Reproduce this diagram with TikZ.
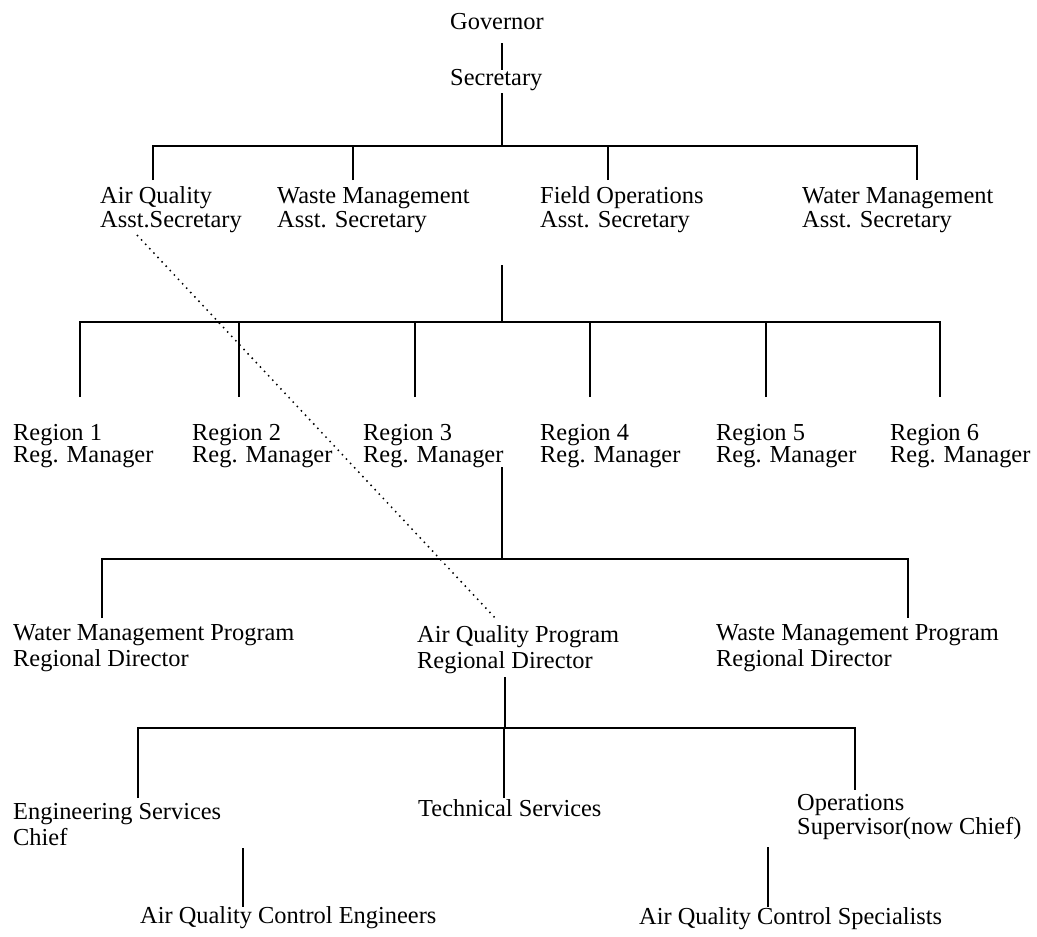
\documentclass[tikz,border=0pt]{standalone}
\usepackage{fontspec}
\setmainfont{Liberation Serif}
\newcommand\twoline[2]{\begin{tabular}[t]{@{}l@{}}#1\\#2\end{tabular}}
\begin{document}
\begin{tikzpicture}[x=1pt,y=-1pt,
  lbl/.style={anchor=base west,inner sep=0pt,font=\fontsize{24.4}{24}\selectfont},
  sp22/.style={font=\fontsize{24.4}{22}\selectfont},
  sp26/.style={font=\fontsize{24.4}{26}\selectfont},
  ln/.style={line width=1.6pt},
  dotln/.style={line width=1.5pt,dash pattern=on 1.5pt off 4.5pt}]
\path[use as bounding box] (0,0) rectangle (1037,937);

% ---- labels
\node[lbl] (gov) at (450,29) {Governor};
\node[lbl] (sec) at (450,85) {Secretary};
\node[lbl] (aq) at (100,203) {\twoline{Air Quality}{Asst.Secretary}};
\node[lbl] (wm) at (277,203) {\twoline{Waste Management}{Asst. Secretary}};
\node[lbl] (fo) at (540,203) {\twoline{Field Operations}{Asst. Secretary}};
\node[lbl] (wa) at (802,203) {\twoline{Water Management}{Asst. Secretary}};

\node[lbl,sp22] (r1) at (13,440) {\twoline{Region 1}{Reg. Manager}};
\node[lbl,sp22] (r2) at (192,440) {\twoline{Region 2}{Reg. Manager}};
\node[lbl,sp22] (r3) at (363,440) {\twoline{Region 3}{Reg. Manager}};
\node[lbl,sp22] (r4) at (540,440) {\twoline{Region 4}{Reg. Manager}};
\node[lbl,sp22] (r5) at (716,440) {\twoline{Region 5}{Reg. Manager}};
\node[lbl,sp22] (r6) at (890,440) {\twoline{Region 6}{Reg. Manager}};

\node[lbl,sp26] (wp) at (13,640) {\twoline{Water Management Program}{Regional Director}};
\node[lbl,sp26] (ap) at (417,642) {\twoline{Air Quality Program}{Regional Director}};
\node[lbl,sp26] (sp) at (716,640) {\twoline{Waste Management Program}{Regional Director}};

\node[lbl,sp26] (es) at (13,819) {\twoline{Engineering Services}{Chief}};
\node[lbl] (ts) at (418,816) {Technical Services};
\node[lbl] (op) at (797,810) {\twoline{Operations}{Supervisor(now Chief)}};

\node[lbl] (ce) at (140,923) {Air Quality Control Engineers};
\node[lbl] (cs) at (639,924) {Air Quality Control Specialists};

% ---- connector end points
\coordinate (gov-b) at (502,43);  \coordinate (sec-t) at (502,70);
\coordinate (sec-b) at (502,93);  \coordinate (b1) at (502,146);
\coordinate (aq-t) at (153,180);  \coordinate (wm-t) at (353,180);
\coordinate (fo-t) at (608,180);  \coordinate (wa-t) at (917,180);

\coordinate (fo-b) at (502,265);  \coordinate (b2) at (502,322);
\coordinate (r1-t) at (80,397);   \coordinate (r2-t) at (239,397);
\coordinate (r3-t) at (415,397);  \coordinate (r4-t) at (590,397);
\coordinate (r5-t) at (766,397);  \coordinate (r6-t) at (940,397);

\coordinate (r3-b) at (502,467);  \coordinate (b3) at (502,559);
\coordinate (wp-t) at (102,618);  \coordinate (sp-t) at (908,618);

\coordinate (ap-b) at (505,677);  \coordinate (b4) at (505,728);
\coordinate (es-t) at (138,798);  \coordinate (ts-t) at (504,798);
\coordinate (op-t) at (855,790);

\coordinate (es-b) at (243,848);  \coordinate (ce-t) at (243,907);
\coordinate (op-b) at (768,847);  \coordinate (cs-t) at (768,907);

\coordinate (aq-d) at (137,235);  \coordinate (ap-d) at (497,620);

% ---- connectors
\draw[ln] (gov-b) -- (sec-t);
\draw[ln] (sec-b) -- (b1);
\draw[ln] (aq-t) -- (aq-t |- b1) -- (wa-t |- b1) -- (wa-t);
\draw[ln] (wm-t) -- (wm-t |- b1);
\draw[ln] (fo-t) -- (fo-t |- b1);

\draw[ln] (fo-b) -- (b2);
\draw[ln] (r1-t) -- (r1-t |- b2) -- (r6-t |- b2) -- (r6-t);
\foreach \r in {r2,r3,r4,r5} \draw[ln] (\r-t) -- (\r-t |- b2);

\draw[ln] (r3-b) -- (b3);
\draw[ln] (wp-t) -- (wp-t |- b3) -- (sp-t |- b3) -- (sp-t);

\draw[ln] (ap-b) -- (b4);
\draw[ln] (es-t) -- (es-t |- b4) -- (op-t |- b4) -- (op-t);
\draw[ln] (ts-t) -- (ts-t |- b4);

\draw[ln] (es-b) -- (ce-t);
\draw[ln] (op-b) -- (cs-t);

\draw[dotln] (aq-d) -- (ap-d);
\end{tikzpicture}
\end{document}
